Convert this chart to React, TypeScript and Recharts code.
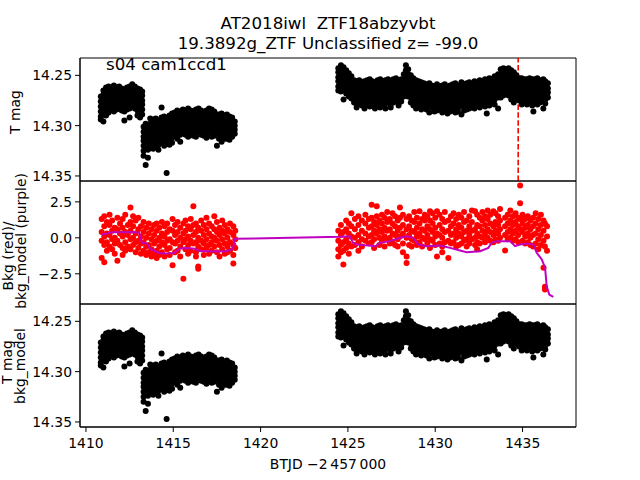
import React from 'react';
import { ComposedChart, Scatter, XAxis, YAxis, ReferenceLine, ReferenceArea } from 'recharts';

const TITLE_1 = 'AT2018iwl  ZTF18abzyvbt';
const TITLE_2 = '19.3892g_ZTF Unclassified z= -99.0';
const SECTOR_LABEL = 's04 cam1ccd1';
const X_LABEL = 'BTJD \u22122\u2009457\u2009000';

const X_DOMAIN: [number, number] = [1409.66, 1438.06];
const X_TICKS = [1410, 1415, 1420, 1425, 1430, 1435];
const MAG_DOMAIN: [number, number] = [14.2328, 14.355];
const MAG_TICKS = [14.25, 14.3, 14.35];
const BKG_DOMAIN: [number, number] = [-4.6, 3.95];
const BKG_TICKS = [-2.5, 0, 2.5];
const EVENT_TIME = 1434.75;

// T mag light curve: [time, mag, mag, ...]
const tmagRows: number[][] = [
  [1410.85, 14.271, 14.276, 14.281, 14.286, 14.291, 14.294],
  [1411.00, 14.265, 14.269, 14.274, 14.279, 14.284, 14.289, 14.296],
  [1411.15, 14.262, 14.267, 14.271, 14.276, 14.280, 14.285, 14.290],
  [1411.30, 14.261, 14.265, 14.270, 14.274, 14.279, 14.283, 14.287],
  [1411.45, 14.263, 14.267, 14.272, 14.277, 14.281, 14.284],
  [1411.60, 14.260, 14.264, 14.269, 14.273, 14.278, 14.282, 14.286],
  [1411.75, 14.262, 14.266, 14.271, 14.275, 14.280, 14.284],
  [1411.90, 14.261, 14.266, 14.270, 14.275, 14.279, 14.283],
  [1412.05, 14.263, 14.268, 14.272, 14.277, 14.281, 14.285],
  [1412.20, 14.264, 14.268, 14.273, 14.277, 14.282, 14.286, 14.295],
  [1412.35, 14.262, 14.267, 14.271, 14.276, 14.280, 14.284],
  [1412.50, 14.261, 14.266, 14.270, 14.275, 14.279, 14.283, 14.292],
  [1412.65, 14.259, 14.263, 14.268, 14.272, 14.277, 14.281],
  [1412.80, 14.261, 14.265, 14.270, 14.274, 14.279, 14.283],
  [1412.95, 14.263, 14.267, 14.272, 14.276, 14.281, 14.285, 14.290],
  [1413.10, 14.264, 14.269, 14.273, 14.278, 14.282, 14.287, 14.292],
  [1413.22, 14.266, 14.270, 14.275, 14.279, 14.284, 14.289],
  [1413.30, 14.301, 14.306, 14.311, 14.315, 14.320, 14.325, 14.330],
  [1413.42, 14.298, 14.303, 14.308, 14.312, 14.317, 14.322, 14.339],
  [1413.55, 14.300, 14.305, 14.309, 14.314, 14.319, 14.324, 14.332],
  [1413.68, 14.293, 14.298, 14.303, 14.308, 14.312, 14.317, 14.322],
  [1413.85, 14.294, 14.299, 14.304, 14.308, 14.313, 14.318, 14.323],
  [1414.00, 14.293, 14.297, 14.302, 14.307, 14.311, 14.316, 14.321],
  [1414.15, 14.295, 14.300, 14.304, 14.309, 14.314, 14.319, 14.324],
  [1414.33, 14.282, 14.292, 14.297, 14.302, 14.307, 14.312, 14.317],
  [1414.48, 14.291, 14.296, 14.301, 14.305, 14.310, 14.315, 14.320],
  [1414.62, 14.294, 14.299, 14.303, 14.308, 14.313, 14.318, 14.347],
  [1414.78, 14.290, 14.295, 14.300, 14.304, 14.309, 14.314, 14.319],
  [1414.93, 14.288, 14.293, 14.298, 14.302, 14.307, 14.312, 14.317],
  [1415.08, 14.287, 14.291, 14.296, 14.301, 14.305, 14.310],
  [1415.23, 14.285, 14.290, 14.294, 14.299, 14.304, 14.308, 14.313],
  [1415.40, 14.286, 14.291, 14.295, 14.300, 14.305, 14.309, 14.316],
  [1415.55, 14.284, 14.288, 14.293, 14.298, 14.302, 14.307],
  [1415.70, 14.285, 14.290, 14.295, 14.299, 14.304, 14.309],
  [1415.85, 14.283, 14.288, 14.292, 14.297, 14.302, 14.306, 14.311],
  [1416.00, 14.285, 14.289, 14.294, 14.298, 14.303, 14.308],
  [1416.15, 14.286, 14.291, 14.296, 14.300, 14.305, 14.310],
  [1416.30, 14.284, 14.288, 14.293, 14.298, 14.302, 14.307, 14.311],
  [1416.45, 14.283, 14.287, 14.292, 14.296, 14.301, 14.306],
  [1416.60, 14.285, 14.290, 14.294, 14.299, 14.304, 14.309],
  [1416.75, 14.287, 14.292, 14.296, 14.301, 14.305, 14.310],
  [1416.90, 14.285, 14.289, 14.294, 14.299, 14.303, 14.308, 14.312],
  [1417.05, 14.283, 14.288, 14.292, 14.297, 14.302, 14.306],
  [1417.20, 14.284, 14.289, 14.293, 14.298, 14.303, 14.307, 14.311],
  [1417.35, 14.286, 14.291, 14.296, 14.300, 14.305, 14.310],
  [1417.50, 14.289, 14.293, 14.298, 14.303, 14.307, 14.320],
  [1417.62, 14.289, 14.294, 14.299, 14.303, 14.308, 14.313],
  [1417.77, 14.288, 14.293, 14.297, 14.302, 14.307, 14.311, 14.316],
  [1417.92, 14.290, 14.295, 14.299, 14.304, 14.309, 14.313],
  [1418.07, 14.289, 14.294, 14.298, 14.303, 14.308, 14.313],
  [1418.22, 14.291, 14.296, 14.300, 14.305, 14.310, 14.314],
  [1418.37, 14.292, 14.297, 14.301, 14.306, 14.311],
  [1418.52, 14.296, 14.300, 14.304, 14.308],
  [1424.45, 14.243, 14.247, 14.252, 14.256, 14.261, 14.265],
  [1424.60, 14.240, 14.244, 14.249, 14.253, 14.258, 14.262, 14.266],
  [1424.75, 14.242, 14.246, 14.251, 14.255, 14.260, 14.264, 14.274],
  [1424.90, 14.245, 14.250, 14.254, 14.259, 14.263, 14.268],
  [1425.05, 14.248, 14.253, 14.257, 14.262, 14.266, 14.271],
  [1425.20, 14.251, 14.256, 14.260, 14.265, 14.269, 14.273],
  [1425.35, 14.255, 14.259, 14.264, 14.268, 14.273, 14.277],
  [1425.50, 14.256, 14.261, 14.265, 14.270, 14.274, 14.279, 14.282],
  [1425.65, 14.255, 14.260, 14.264, 14.269, 14.273, 14.277],
  [1425.80, 14.257, 14.262, 14.266, 14.271, 14.275, 14.280],
  [1425.95, 14.256, 14.261, 14.265, 14.270, 14.274, 14.279, 14.283],
  [1426.10, 14.255, 14.259, 14.264, 14.268, 14.273, 14.277],
  [1426.25, 14.254, 14.259, 14.263, 14.268, 14.272, 14.277, 14.281],
  [1426.40, 14.256, 14.261, 14.265, 14.270, 14.274, 14.279],
  [1426.55, 14.257, 14.262, 14.266, 14.271, 14.275, 14.280, 14.283],
  [1426.70, 14.255, 14.260, 14.264, 14.269, 14.273, 14.278],
  [1426.85, 14.254, 14.259, 14.263, 14.268, 14.272, 14.277, 14.282],
  [1427.00, 14.256, 14.261, 14.265, 14.270, 14.274, 14.279],
  [1427.15, 14.255, 14.260, 14.264, 14.269, 14.273, 14.278, 14.283],
  [1427.30, 14.254, 14.258, 14.263, 14.267, 14.272, 14.276],
  [1427.45, 14.256, 14.261, 14.265, 14.270, 14.274, 14.279, 14.282],
  [1427.60, 14.254, 14.259, 14.263, 14.268, 14.272, 14.277],
  [1427.75, 14.253, 14.258, 14.262, 14.267, 14.271, 14.275],
  [1427.90, 14.255, 14.260, 14.264, 14.269, 14.273, 14.277, 14.280],
  [1428.05, 14.254, 14.259, 14.263, 14.268, 14.272, 14.276],
  [1428.20, 14.249, 14.254, 14.258, 14.263, 14.267, 14.271],
  [1428.32, 14.240, 14.245, 14.249, 14.254, 14.258, 14.263, 14.268],
  [1428.45, 14.244, 14.249, 14.253, 14.258, 14.262, 14.267, 14.271],
  [1428.60, 14.250, 14.254, 14.259, 14.263, 14.268, 14.272, 14.277],
  [1428.75, 14.253, 14.257, 14.262, 14.266, 14.271, 14.275, 14.280],
  [1428.90, 14.255, 14.259, 14.264, 14.268, 14.273, 14.277, 14.283],
  [1429.05, 14.256, 14.260, 14.265, 14.269, 14.274, 14.278, 14.282],
  [1429.20, 14.257, 14.261, 14.266, 14.270, 14.275, 14.279, 14.284],
  [1429.35, 14.258, 14.262, 14.267, 14.271, 14.276, 14.280],
  [1429.50, 14.259, 14.263, 14.268, 14.272, 14.277, 14.281, 14.284],
  [1429.66, 14.258, 14.262, 14.267, 14.271, 14.276, 14.280, 14.287],
  [1429.80, 14.260, 14.264, 14.269, 14.273, 14.278, 14.282],
  [1429.95, 14.261, 14.265, 14.270, 14.274, 14.279, 14.283, 14.286],
  [1430.10, 14.259, 14.263, 14.268, 14.272, 14.277, 14.281, 14.285],
  [1430.25, 14.261, 14.266, 14.270, 14.275, 14.279, 14.284],
  [1430.40, 14.260, 14.265, 14.269, 14.274, 14.278, 14.283, 14.287],
  [1430.55, 14.259, 14.264, 14.268, 14.273, 14.277, 14.282, 14.285],
  [1430.70, 14.261, 14.266, 14.270, 14.275, 14.279, 14.284, 14.288],
  [1430.85, 14.260, 14.265, 14.269, 14.274, 14.278, 14.283, 14.286],
  [1431.00, 14.259, 14.264, 14.268, 14.273, 14.277, 14.282, 14.285],
  [1431.15, 14.258, 14.263, 14.267, 14.272, 14.276, 14.281, 14.287],
  [1431.30, 14.260, 14.265, 14.269, 14.274, 14.278, 14.283, 14.286],
  [1431.50, 14.257, 14.262, 14.266, 14.271, 14.275, 14.280, 14.289],
  [1431.65, 14.259, 14.264, 14.268, 14.273, 14.277, 14.282, 14.285],
  [1431.80, 14.258, 14.263, 14.267, 14.272, 14.276, 14.281, 14.284],
  [1431.95, 14.257, 14.262, 14.266, 14.271, 14.275, 14.280, 14.283],
  [1432.10, 14.259, 14.264, 14.268, 14.273, 14.277, 14.281],
  [1432.25, 14.256, 14.261, 14.265, 14.270, 14.274, 14.279, 14.283],
  [1432.40, 14.257, 14.262, 14.266, 14.271, 14.275, 14.279],
  [1432.55, 14.255, 14.260, 14.264, 14.269, 14.273, 14.278, 14.282],
  [1432.70, 14.256, 14.261, 14.265, 14.270, 14.274, 14.278],
  [1432.85, 14.254, 14.259, 14.263, 14.268, 14.272, 14.277, 14.281],
  [1432.95, 14.256, 14.261, 14.265, 14.270, 14.274, 14.278, 14.288],
  [1433.10, 14.253, 14.258, 14.262, 14.267, 14.271, 14.276, 14.280],
  [1433.25, 14.254, 14.259, 14.263, 14.268, 14.272, 14.276],
  [1433.40, 14.251, 14.256, 14.260, 14.265, 14.269, 14.274, 14.279],
  [1433.60, 14.249, 14.254, 14.258, 14.263, 14.267, 14.272, 14.283],
  [1433.75, 14.244, 14.249, 14.253, 14.258, 14.262, 14.267, 14.272],
  [1433.90, 14.243, 14.247, 14.252, 14.256, 14.261, 14.265, 14.270],
  [1434.05, 14.244, 14.248, 14.253, 14.257, 14.262, 14.266],
  [1434.20, 14.243, 14.247, 14.252, 14.256, 14.261, 14.265, 14.270],
  [1434.35, 14.245, 14.249, 14.254, 14.258, 14.263, 14.268, 14.274],
  [1434.50, 14.247, 14.252, 14.256, 14.261, 14.265, 14.270, 14.277],
  [1434.65, 14.250, 14.254, 14.259, 14.263, 14.268, 14.272],
  [1434.80, 14.253, 14.258, 14.262, 14.267, 14.271, 14.275],
  [1434.95, 14.253, 14.257, 14.262, 14.266, 14.271, 14.275, 14.279],
  [1435.10, 14.254, 14.259, 14.263, 14.268, 14.272, 14.276],
  [1435.25, 14.254, 14.258, 14.263, 14.267, 14.272, 14.276, 14.279],
  [1435.40, 14.253, 14.257, 14.262, 14.266, 14.271, 14.275],
  [1435.55, 14.254, 14.259, 14.263, 14.268, 14.272, 14.276, 14.280],
  [1435.62, 14.286],
  [1435.70, 14.254, 14.258, 14.263, 14.267, 14.272, 14.276],
  [1435.85, 14.253, 14.257, 14.262, 14.266, 14.271, 14.275, 14.279],
  [1436.00, 14.255, 14.259, 14.264, 14.268, 14.273, 14.277],
  [1436.19, 14.254, 14.258, 14.263, 14.267, 14.272, 14.276, 14.283],
  [1436.30, 14.256, 14.260, 14.265, 14.269, 14.274, 14.278],
  [1436.45, 14.258, 14.263, 14.267, 14.272],
];

// T mag after bkg_model correction (reads the same as the raw light curve)
const tmagBkgModelRows: number[][] = tmagRows;

// Background flux (red): [time, value, value, ...]
const bkgRows: number[][] = [
  [1410.90, 1.3, 0.4, -0.2, -1.4],
  [1411.05, 1.5, 0.8, 0.1, -0.5, -1.7],
  [1411.20, 1.1, 0.3, -0.3, -0.9],
  [1411.35, 1.6, 0.9, 0.2, -0.6],
  [1411.50, 1.2, 0.5, -0.1, -0.8],
  [1411.65, 0.7, 0.0, -0.4, -1.1],
  [1411.80, 1.4, 0.6, -0.2, -1.6],
  [1411.95, 1.0, 0.3, -0.5],
  [1412.10, 1.3, 0.7, 0.1, -0.7, -1.2],
  [1412.25, 1.6, 0.4, -0.3, -0.9],
  [1412.40, 0.9, 0.2, -0.6],
  [1412.55, 2.1, 1.1, 0.5, -0.1, -0.8],
  [1412.70, 1.5, 0.8, 0.0, -0.5],
  [1412.85, 1.2, 0.3, -0.3, -1.0],
  [1413.00, 1.4, 0.6, -0.2, -0.7],
  [1413.15, 0.8, 0.1, -0.4, -1.1],
  [1413.30, 1.1, 0.4, -0.3, -0.9],
  [1413.45, 0.7, 0.0, -0.6, -1.2],
  [1413.60, 1.0, 0.3, -0.5, -1.0],
  [1413.75, 0.6, -0.1, -0.8, -1.3],
  [1413.90, 0.9, 0.2, -0.4, -1.1],
  [1414.05, 1.0, 0.5, -0.2, -0.9, -1.4],
  [1414.20, 0.7, 0.0, -0.6, -1.2],
  [1414.35, 1.1, 0.3, -0.3, -1.0],
  [1414.50, 0.8, 0.1, -0.5, -1.3],
  [1414.65, 1.0, 0.4, -0.2, -0.8],
  [1414.80, 0.6, -0.1, -0.7, -1.2],
  [1414.96, 1.3, 0.5, -0.3, -1.9],
  [1415.10, 0.9, 0.2, -0.4, -1.0],
  [1415.25, 1.1, 0.4, -0.2, -0.9],
  [1415.40, 0.7, 0.0, -0.6, -1.3],
  [1415.58, 1.0, 0.3, -0.3, -2.85],
  [1415.70, 1.2, 0.5, -0.1, -0.8],
  [1415.85, 0.8, 0.1, -0.5, -1.1],
  [1416.00, 1.3, 0.6, -0.2, -0.9],
  [1416.15, 2.2, 0.9, 0.2, -0.4],
  [1416.30, 1.0, 0.4, -0.3, -1.0, -1.3],
  [1416.43, 0.7, 0.0, -0.6, -2.0, -2.15],
  [1416.60, 1.2, 0.5, -0.2, -0.8],
  [1416.75, 0.9, 0.2, -0.4, -1.2],
  [1416.90, 1.4, 0.6, -0.1, -0.7],
  [1417.05, 1.0, 0.3, -0.5, -1.1],
  [1417.20, 0.8, 0.1, -0.3, -0.9],
  [1417.35, 1.5, 0.6, 0.0, -0.6],
  [1417.50, 1.1, 0.4, -0.2, -1.0],
  [1417.65, 0.7, 0.2, -0.5, -1.3],
  [1417.80, 1.2, 0.5, -0.1, -0.8],
  [1417.95, 0.9, 0.3, -0.4, -1.1],
  [1418.10, 0.6, 0.0, -0.6, -1.0],
  [1418.25, 1.0, 0.4, -0.3, -0.9],
  [1418.44, 0.8, 0.2, -0.5, -1.2, -1.78],
  [1418.55, 0.5, -0.1, -0.7],
  [1424.45, 0.5, -0.2, -0.8, -1.3],
  [1424.60, 0.9, 0.2, -0.5, -1.0],
  [1424.74, 0.4, -0.3, -0.9, -1.85],
  [1424.90, 1.2, 0.6, -0.1, -0.7],
  [1425.05, 1.0, 0.3, -0.4, -1.1],
  [1425.20, 1.7, 0.8, 0.1, -0.6],
  [1425.40, 1.3, 0.6, 0.0, -0.5],
  [1425.60, 1.5, 0.9, 0.2, -0.3, -0.9],
  [1425.80, 1.2, 0.5, -0.1, -0.6],
  [1426.00, 1.6, 1.0, 0.3, -0.2],
  [1426.20, 1.3, 0.7, 0.1, -0.4],
  [1426.36, 2.3, 1.4, 0.8, 0.2, -0.3],
  [1426.50, 1.1, 0.5, -0.1, -0.7],
  [1426.65, 2.2, 1.5, 0.9, 0.3],
  [1426.80, 1.2, 0.6, 0.0, -0.5],
  [1426.95, 1.6, 1.0, 0.4, -0.2],
  [1427.10, 1.4, 0.7, 0.1, -0.6],
  [1427.25, 1.8, 1.1, 0.5, -0.1],
  [1427.40, 1.3, 0.6, 0.0, -0.4],
  [1427.55, 1.7, 1.0, 0.3, -0.3],
  [1427.70, 1.5, 0.8, 0.2, -0.5],
  [1427.85, 1.2, 0.5, -0.1, -0.6],
  [1427.98, 2.1, 1.4, 0.7, 0.1],
  [1428.15, 1.6, 0.9, 0.3, -0.4, -1.0],
  [1428.36, 1.3, 0.6, 0.0, -1.3, -1.75],
  [1428.50, 1.5, 0.8, 0.2, -0.5],
  [1428.65, 1.2, 0.5, -0.1, -0.6],
  [1428.80, 1.8, 1.1, 0.4, -0.2],
  [1428.95, 1.4, 0.7, 0.1, -0.5],
  [1429.10, 1.85, 1.0, 0.3, -0.3],
  [1429.25, 1.3, 0.6, 0.0, -0.6],
  [1429.40, 1.6, 1.2, 0.5, -0.1],
  [1429.55, 1.5, 0.8, 0.2, -0.4],
  [1429.70, 1.85, 1.2, 0.6, -0.1, -0.7],
  [1429.85, 1.7, 1.0, 0.4, -0.2],
  [1430.00, 1.4, 0.7, 0.1, -0.5],
  [1430.10, 1.85, 0.3, -1.3],
  [1430.25, 1.6, 0.9, 0.2, -0.4],
  [1430.40, 1.3, 0.6, 0.0, -0.6, -1.0],
  [1430.55, 1.8, 1.1, 0.4, -0.3],
  [1430.75, 1.2, 0.5, -0.2, -1.4],
  [1430.90, 1.5, 0.8, 0.2, -0.4],
  [1431.05, 1.7, 1.0, 0.3, -0.3],
  [1431.20, 1.3, 0.6, 0.0, -0.6],
  [1431.35, 1.6, 0.9, 0.3, -0.5],
  [1431.50, 1.4, 0.7, 0.1, -0.4],
  [1431.65, 1.8, 1.1, 0.4, -0.2],
  [1431.80, 1.2, 0.5, -0.1, -0.6],
  [1431.95, 1.5, 0.8, 0.2, -0.4],
  [1432.10, 1.9, 1.1, 0.5, -0.1],
  [1432.28, 1.85, 0.6, 0.0, -0.5],
  [1432.40, 1.6, 0.9, 0.3, -0.3, -0.8],
  [1432.55, 1.4, 0.8, 0.1, -0.4],
  [1432.70, 1.8, 1.2, 0.5, 0.0],
  [1432.85, 1.5, 0.9, 0.3, -0.3],
  [1433.00, 1.9, 1.3, 0.6, 0.0],
  [1433.15, 1.6, 1.0, 0.4, -0.2],
  [1433.33, 1.85, 0.8, 0.2, -0.3],
  [1433.45, 1.7, 1.1, 0.5, -0.1],
  [1433.60, 1.5, 0.9, 0.3, -0.2],
  [1433.71, 2.0, 1.2, 0.6, 0.0],
  [1434.00, 1.4, 0.8, 0.2, -0.88],
  [1434.15, 1.6, 1.0, 0.4, -0.1],
  [1434.30, 1.9, 1.2, 0.6, 0.0],
  [1434.45, 1.5, 0.9, 0.3, -0.2],
  [1434.60, 1.7, 1.1, 0.5, -0.1],
  [1434.75, 1.4, 0.8, 0.2, -0.3],
  [1434.86, 3.63, 2.4, 1.3, 0.6],
  [1435.00, 1.6, 1.0, 0.4, -0.2],
  [1435.15, 1.3, 0.7, 0.1, -0.4],
  [1435.30, 1.5, 0.9, 0.3, -0.3],
  [1435.45, 1.2, 0.6, 0.0, -0.5],
  [1435.60, 1.4, 0.8, 0.2, -0.6],
  [1435.75, 1.7, 1.0, 0.3, -0.4],
  [1435.90, 1.3, 0.6, -0.1, -0.8],
  [1436.05, 1.6, 0.9, 0.2, -0.5],
  [1436.20, 1.2, 0.5, -0.2, -2.08],
  [1436.28, 1.0, -0.6, -3.4, -3.6],
  [1436.40, 0.8, 0.1, -0.9],
];

// Background model (purple line)
const bkgModelTimes = [
  1410.90, 1411.20, 1411.47, 1412.00, 1412.50, 1413.05, 1413.20, 1413.50, 1413.70, 1413.85,
  1414.00, 1414.30, 1414.70, 1415.05, 1415.25, 1415.40, 1415.80, 1416.24, 1416.50, 1417.00,
  1417.60, 1418.05, 1418.35, 1418.45, 1418.50, 1424.55, 1425.10, 1425.30, 1425.50, 1426.00,
  1426.27, 1426.55, 1426.84, 1427.40, 1427.98, 1428.36, 1428.74, 1429.03, 1429.50, 1430.27,
  1430.85, 1431.42, 1431.80, 1432.57, 1433.04, 1433.23, 1433.52, 1434.28, 1434.57, 1434.86,
  1435.24, 1435.62, 1435.81, 1436.10, 1436.29, 1436.38, 1436.53, 1436.76,
];
const bkgModelValues = [
  0.23, 0.30, 0.39, 0.38, 0.40, 0.38, -0.35, -0.40, -0.81, -0.85,
  -0.95, -1.09, -1.08, -1.05, -0.85, -0.72, -0.70, -0.76, -0.92, -0.93,
  -0.95, -0.92, -0.80, -0.60, -0.07, 0.07, 0.11, -0.35, -0.47, -0.52,
  -0.53, -0.60, -0.35, -0.23, 0.00, 0.11, 0.00, -0.47, -0.58, -0.53,
  -0.70, -0.88, -1.00, -0.93, -0.70, -0.35, -0.23, -0.23, -0.58, -0.47,
  -0.40, -0.47, -1.04, -1.50, -2.08, -3.36, -3.94, -4.10,
];

const toPoints = (rows: number[][]) =>
  rows.flatMap(([t, ...vs]) => vs.map((v) => ({ t, v })));

const tmagPoints = toPoints(tmagRows);
const tmagBkgModelPoints = toPoints(tmagBkgModelRows);
const bkgPoints = toPoints(bkgRows);
const bkgModelPoints = bkgModelTimes.map((t, i) => ({ t, v: bkgModelValues[i] }));

const FONT = 'DejaVu Sans, sans-serif';
const TICK_FONT = 13.9;
const PAD = 10;
const PLOT_H = 123;
const W = 640;
const MARGIN_RIGHT = 64;
const Y_AXIS_W = 80;

const makeDot = (color: string, r: number) => (props: any) =>
  props.cx == null ? <g /> : <circle cx={props.cx} cy={props.cy} r={r} fill={color} />;

const blackDot = makeDot('#000000', 3);
const redDot = makeDot('#ff0000', 3);
const noDot = () => <g />;

const magFmt = (v: number) => v.toFixed(2);
const bkgFmt = (v: number) => (v < 0 ? '\u2212' : '') + Math.abs(v).toFixed(1);

const tickStyle = { fill: '#000', fontSize: TICK_FONT, fontFamily: FONT };

export default function App() {
  const panelTops = [58, 181, 304];
  const frame = (yd: [number, number]) => (
    <ReferenceArea
      x1={X_DOMAIN[0]}
      x2={X_DOMAIN[1]}
      y1={yd[0]}
      y2={yd[1]}
      fill="none"
      stroke="#000"
      strokeWidth={1}
      ifOverflow="visible"
    />
  );
  const yAxisCommon = {
    dataKey: 'v',
    type: 'number' as const,
    allowDataOverflow: true,
    width: Y_AXIS_W,
    tickSize: 5,
    tickMargin: 3,
    tick: tickStyle,
    axisLine: { stroke: '#000' },
    tickLine: { stroke: '#000' },
  };
  return (
    <div style={{ position: 'absolute', left: 0, top: 0, width: 640, height: 480, background: '#fff' }}>
      {/* Panel 1: T mag */}
      <div style={{ position: 'absolute', left: 0, top: panelTops[0] - PAD }}>
        <ComposedChart width={W} height={PLOT_H + 2 * PAD} margin={{ top: PAD, right: MARGIN_RIGHT, bottom: PAD, left: 0 }}>
          <XAxis dataKey="t" type="number" domain={X_DOMAIN} allowDataOverflow hide />
          <YAxis {...yAxisCommon} domain={MAG_DOMAIN} reversed ticks={MAG_TICKS} tickFormatter={magFmt} />
          <Scatter data={tmagPoints} shape={blackDot} isAnimationActive={false} />
          <ReferenceLine x={EVENT_TIME} stroke="#ff0000" strokeWidth={1.6} strokeDasharray="5.5 2.4" />
          {frame(MAG_DOMAIN)}
        </ComposedChart>
      </div>

      {/* Panel 2: background and background model */}
      <div style={{ position: 'absolute', left: 0, top: panelTops[1] - PAD }}>
        <ComposedChart width={W} height={PLOT_H + 2 * PAD} margin={{ top: PAD, right: MARGIN_RIGHT, bottom: PAD, left: 0 }}>
          <XAxis dataKey="t" type="number" domain={X_DOMAIN} allowDataOverflow hide />
          <YAxis {...yAxisCommon} domain={BKG_DOMAIN} ticks={BKG_TICKS} tickFormatter={bkgFmt} />
          <Scatter data={bkgPoints} shape={redDot} isAnimationActive={false} />
          <Scatter
            data={bkgModelPoints}
            shape={noDot}
            fill="#bf00bf"
            line={{ stroke: '#bf00bf', strokeWidth: 2 }}
            lineType="joint"
            isAnimationActive={false}
          />
          {frame(BKG_DOMAIN)}
        </ComposedChart>
      </div>

      {/* Panel 3: T mag with bkg_model */}
      <div style={{ position: 'absolute', left: 0, top: panelTops[2] - PAD }}>
        <ComposedChart width={W} height={PLOT_H + PAD + 40} margin={{ top: PAD, right: MARGIN_RIGHT, bottom: 0, left: 0 }}>
          <XAxis
            dataKey="t"
            type="number"
            domain={X_DOMAIN}
            allowDataOverflow
            ticks={X_TICKS}
            height={40}
            tickSize={5}
            tickMargin={6}
            tick={tickStyle}
            axisLine={{ stroke: '#000' }}
            tickLine={{ stroke: '#000' }}
          />
          <YAxis {...yAxisCommon} domain={MAG_DOMAIN} reversed ticks={MAG_TICKS} tickFormatter={magFmt} />
          <Scatter data={tmagBkgModelPoints} shape={blackDot} isAnimationActive={false} />
          {frame(MAG_DOMAIN)}
        </ComposedChart>
      </div>

      {/* Text overlay */}
      <svg width={640} height={480} style={{ position: 'absolute', left: 0, top: 0, pointerEvents: 'none' }}>
        <g fontFamily={FONT} fill="#000">
          <text x={328} y={29} fontSize={16.67} textAnchor="middle" style={{ whiteSpace: 'pre' }}>{TITLE_1}</text>
          <text x={328} y={49} fontSize={16.67} textAnchor="middle">{TITLE_2}</text>
          <text x={106} y={70} fontSize={16.67}>{SECTOR_LABEL}</text>
          <text x={328} y={469} fontSize={TICK_FONT} textAnchor="middle">{X_LABEL}</text>
          <text x={20} y={112} fontSize={TICK_FONT} textAnchor="middle" transform="rotate(-90 20 112)">T mag</text>
          <text x={13} y={256} fontSize={TICK_FONT} textAnchor="middle" transform="rotate(-90 13 256)">Bkg (red)/</text>
          <text x={26} y={241} fontSize={TICK_FONT} textAnchor="middle" transform="rotate(-90 26 241)">bkg_model (purple)</text>
          <text x={12} y={362} fontSize={TICK_FONT} textAnchor="middle" transform="rotate(-90 12 362)">T mag</text>
          <text x={25} y={366} fontSize={TICK_FONT} textAnchor="middle" transform="rotate(-90 25 366)">bkg_model</text>
        </g>
      </svg>
    </div>
  );
}
